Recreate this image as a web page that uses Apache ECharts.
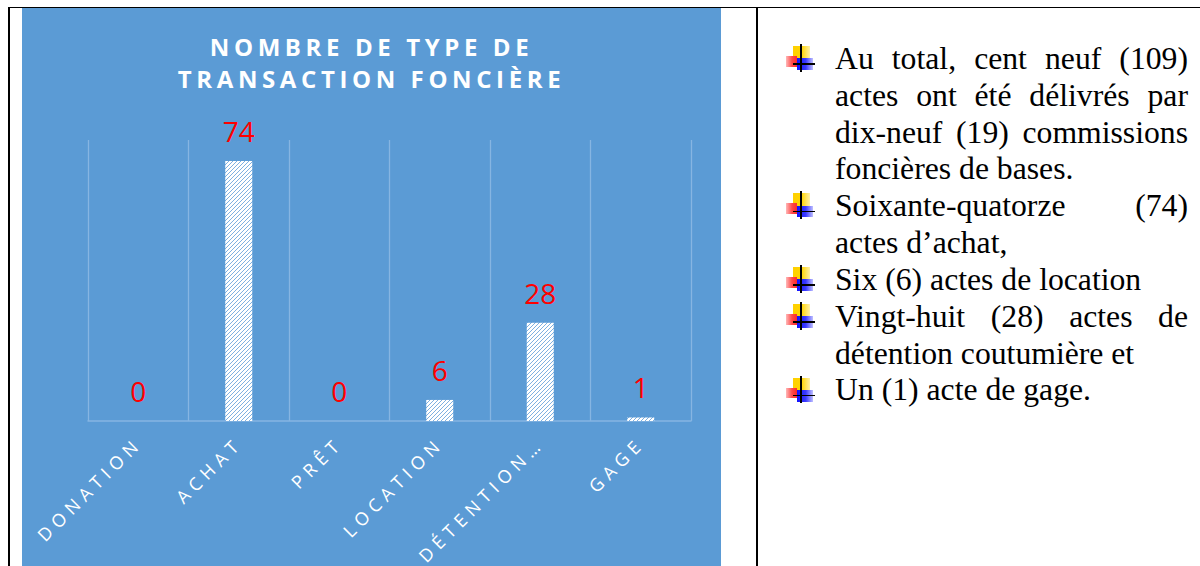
<!DOCTYPE html>
<html>
<head>
<meta charset="utf-8">
<script src="https://cdn.jsdelivr.net/npm/echarts@6/dist/echarts.min.js"></script>
<style>
html,body{margin:0;padding:0;background:#fff;width:1200px;height:566px;overflow:hidden;position:relative;}
#chart{position:absolute;left:22px;top:8px;width:699px;height:558px;}
.bd{position:absolute;background:#000;}
#txt{position:absolute;left:835px;top:40.9px;width:353px;font-family:"Liberation Serif","Times New Roman",serif;font-size:31.7px;line-height:36.85px;color:#000;}
.ln{position:relative;height:36.85px;white-space:nowrap;text-align:left;}
.ln.j{white-space:normal;text-align:justify;text-align-last:justify;}
.ic{position:absolute;left:0;top:0;width:0;height:0;}
.ic div{position:absolute;}
.ic .y{left:-41.7px;top:5.1px;width:17px;height:12.3px;background:linear-gradient(90deg,#ffd000 0%,#ffd400 50%,#fff0a8 100%);filter:blur(0.6px);}
.ic .r{left:-49px;top:15.1px;width:11px;height:10.7px;background:linear-gradient(90deg,#ffb8b8 0%,#ff4a4a 55%,#ff2a2a 100%);filter:blur(0.6px);}
.ic .b{left:-38.3px;top:17.4px;width:16.6px;height:11.7px;background:linear-gradient(90deg,#1010ff 0%,#3a3aff 55%,#c0c0ff 100%);filter:blur(0.6px);}
.ic .v{left:-34.7px;top:3.1px;width:1.6px;height:27.7px;background:#000;}
.ic .h{left:-41.7px;top:22.4px;width:21.7px;height:1.6px;background:#000;}
</style>
</head>
<body>
<div class="bd" style="left:8px;top:6.5px;width:1192px;height:1.6px;"></div>
<div class="bd" style="left:8px;top:6.5px;width:2px;height:560px;"></div>
<div class="bd" style="left:756px;top:6.5px;width:2px;height:560px;"></div>
<div id="chart"></div>
<div id="txt"></div>
<script>
// ---- data ----
const categories = ['DONATION', 'ACHAT', 'PRÊT', 'LOCATION', 'DÉTENTION…', 'GAGE'];
const values = [0, 74, 0, 6, 28, 1];
const titleLines = ['NOMBRE DE TYPE DE', 'TRANSACTION FONCIÈRE'];
const yMin = 0;
const yMax = 80;
// right-hand text: [text, justified, starts a bullet]
const noteLines = [
  ['Au total, cent neuf (109)', true, true],
  ['actes ont été délivrés par', true, false],
  ['dix-neuf (19) commissions', true, false],
  ['foncières de bases.', false, false],
  ['Soixante-quatorze (74)', true, true],
  ['actes d’achat,', false, false],
  ['Six (6) actes de location', false, true],
  ['Vingt-huit (28) actes de', true, true],
  ['détention coutumière et', false, false],
  ['Un (1) acte de gage.', false, true]
];

// ---- text panel ----
const txt = document.getElementById('txt');
noteLines.forEach(function (l) {
  const d = document.createElement('div');
  d.className = 'ln' + (l[1] ? ' j' : '');
  if (l[2]) {
    const ic = document.createElement('div');
    ic.className = 'ic';
    ic.innerHTML = '<div class="y"></div><div class="r"></div><div class="b"></div><div class="v"></div><div class="h"></div>';
    d.appendChild(ic);
  }
  d.appendChild(document.createTextNode(l[0]));
  txt.appendChild(d);
});

// ---- hatch pattern ----
function hatch() {
  const c = document.createElement('canvas');
  c.width = 4; c.height = 4;
  const ctx = c.getContext('2d');
  ctx.fillStyle = '#ffffff';
  ctx.fillRect(0, 0, 4, 4);
  ctx.fillStyle = '#7eb0e0';
  for (let i = 0; i < 4; i++) ctx.fillRect(i, 3 - i, 1, 1);
  return c.toDataURL();
}

const el = document.getElementById('chart');
const chart = echarts.init(el, null, { renderer: 'svg' });
const gridColor = '#86b5e2';
chart.setOption({
  backgroundColor: '#5b9bd5',
  animation: false,
  title: {
    text: titleLines.join('\n'),
    left: 'center',
    top: 22,
    padding: 0,
    textStyle: { color: '#ffffff', fontFamily: 'Open Sans', fontWeight: 'bold', fontSize: 24, lineHeight: 32.5 }
  },
  grid: { left: 66, top: 132, width: 603, height: 281 },
  xAxis: {
    type: 'category',
    data: categories,
    axisLine: { lineStyle: { color: gridColor, width: 1.5 } },
    axisTick: { show: false },
    splitLine: { show: true, interval: 0, lineStyle: { color: gridColor, width: 1.3 } },
    axisLabel: { interval: 0, rotate: 45, color: '#ffffff', fontFamily: 'Open Sans', fontSize: 18, margin: 19 }
  },
  yAxis: { type: 'value', min: yMin, max: yMax, show: false, splitLine: { show: false } },
  series: [{
    type: 'bar',
    data: values,
    barWidth: 27,
    itemStyle: { color: { image: hatch(), repeat: 'repeat', imageWidth: 4, imageHeight: 4 } },
    label: { show: true, position: 'top', distance: 16, color: '#ff0000', fontFamily: 'Open Sans', fontSize: 28 }
  }]
});

function applySpacing() {
  el.querySelectorAll('text').forEach(function (t) {
    const s = t.textContent;
    let ls = 0;
    if (titleLines.indexOf(s) >= 0) ls = 4.6;
    else if (categories.indexOf(s) >= 0) ls = 5.5;
    if (ls) {
      t.setAttribute('letter-spacing', ls);
      t.style.letterSpacing = ls + 'px';
    }
  });
}
applySpacing();
chart.on('finished', applySpacing);
</script>
</body>
</html>
